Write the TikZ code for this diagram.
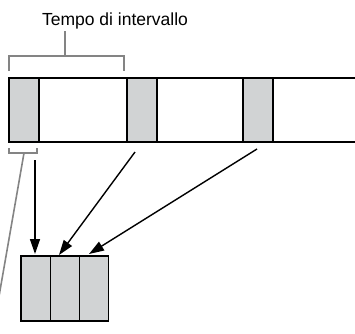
\documentclass[tikz,border=0pt]{standalone}
\usepackage{fontspec}
\setmainfont{Liberation Sans}
\definecolor{cellgray}{HTML}{D1D3D4}
\definecolor{bracegray}{HTML}{848484}
\usetikzlibrary{arrows.meta, positioning}

\begin{document}
\begin{tikzpicture}[x=1pt, y=-1pt,
      cell/.style={draw, line width=1.1pt, fill=cellgray, minimum width=30pt,
                   minimum height=64pt, inner sep=0pt, outer sep=0pt, anchor=north west},
      outcell/.style={draw, line width=1.1pt, fill=cellgray, minimum width=29.3pt,
                   minimum height=65pt, inner sep=0pt, outer sep=0pt},
      brace/.style={bracegray, line width=1.6pt},
      feed/.style={line width=1.4pt, -{Triangle[length=15pt, width=10pt]}},
      label/.style={font=\fontsize{17.5}{20}\selectfont, anchor=base}]

      \useasboundingbox (0,0) rectangle (355,333);

      % Draw the strip
      \draw[line width=1.1pt] (360,78) -- (9,78) -- (9,142) -- (360,142);
      \node[cell] (cellA) at (9,78) {};
      \node[cell] (cellB) at (127,78) {};
      \node[cell] (cellC) at (243,78) {};

      % Interval bracket and its label
      \node[label] (tempo) at (115,25) {Tempo di intervallo};
      \draw[brace] (9,71) -- (9,56) -- (124,56) -- (124,71);
      \coordinate (braceTop) at (65,56);
      \draw[brace] (braceTop) -- (65,31);

      % Small bracket under the first cell
      \draw[brace] (9,148) -- (9,153) -- (37,153) -- (37,148);
      \coordinate (braceLow) at (24,153);
      \coordinate (braceEnd) at (-2,302);
      \draw[brace] (braceLow) -- (braceEnd);

      % Collected cells
      \node[outcell, anchor=north west] (outA) at (21,256) {};
      \node[outcell, right=0pt of outA] (outB) {};
      \node[outcell, right=0pt of outB] (outC) {};

      % Arrows from the strip
      \coordinate (fromA) at (35,160);
      \coordinate (fromB) at (135,152);
      \coordinate (fromC) at (257,149);
      \coordinate (toA) at (35,254);
      \coordinate (toB) at (59,255);
      \coordinate (toC) at (89,254);
      \draw[feed] (fromA) -- (toA);
      \draw[feed] (fromB) -- (toB);
      \draw[feed] (fromC) -- (toC);
\end{tikzpicture}
\end{document}
